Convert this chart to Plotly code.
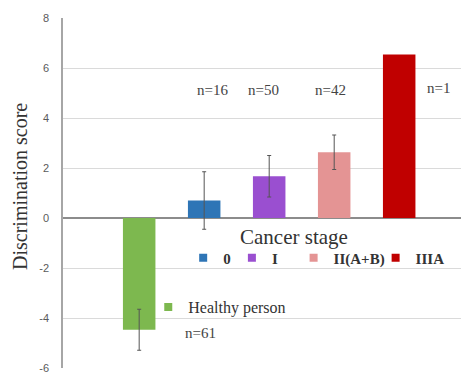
import plotly.graph_objects as go

# ---- data ----
categories = ["Healthy person", "0", "I", "II(A+B)", "IIIA"]
scores = [-4.47, 0.70, 1.67, 2.63, 6.54]
errors = [0.82, 1.15, 0.83, 0.69, 0.0]
counts = ["n=61", "n=16", "n=50", "n=42", "n=1"]
colors = ["#7db84f", "#2e75b6", "#9a4fd0", "#e49494", "#c00000"]
legend_names = ["Healthy person", "0", "I", "II(A+B)", "IIIA"]
y_ticks = [-6, -4, -2, 0, 2, 4, 6, 8]
y_title = "Discrimination score"
legend_title = "Cancer stage"

fig = go.Figure()

# bars
for i, cat in enumerate(categories):
    fig.add_trace(go.Bar(
        x=[i], y=[scores[i]], width=0.5,
        marker=dict(color=colors[i], line=dict(width=0)),
        error_y=dict(type="data", array=[errors[i]], visible=errors[i] > 0,
                     color="#555555", thickness=1, width=2),
        showlegend=False, hoverinfo="skip",
    ))

# legend entries (one legend box per entry so they can sit like the original)
legend_ids = ["legend5", "legend", "legend2", "legend3", "legend4"]
legend_pos = {
    "legend":  (0.296, 0.314),
    "legend2": (0.416, 0.314),
    "legend3": (0.568, 0.314),
    "legend4": (0.770, 0.314),
    "legend5": (0.210, 0.174),
}
for i, name in enumerate(legend_names):
    bold = i > 0
    fig.add_trace(go.Scatter(
        x=[None], y=[None], mode="markers",
        marker=dict(symbol="square", size=8, color=colors[i]),
        name=("<b>%s</b>" % name) if bold else name,
        legend=legend_ids[i], showlegend=True,
    ))

legend_common = dict(bgcolor="rgba(0,0,0,0)", borderwidth=0,
                     xanchor="left", yanchor="middle", itemwidth=30,
                     tracegroupgap=0)
layout_legends = {}
for lid, (lx, ly) in legend_pos.items():
    fnt = dict(family="Liberation Serif", size=15 if lid != "legend5" else 16,
               color="#333333")
    layout_legends[lid] = dict(x=lx, y=ly, font=fnt, **legend_common)

# n= annotations (data coordinates beside/above bars)
ann_x = [0.95, 1.13, 1.92, 2.95, 4.6]
ann_y = [-4.6, 5.12, 5.12, 5.12, 5.2]
annotations = []
for i in range(len(categories)):
    annotations.append(dict(
        x=ann_x[i], y=ann_y[i], xref="x", yref="y", text=counts[i],
        showarrow=False, xanchor="center", yanchor="middle",
        font=dict(family="Liberation Serif", size=15, color="#444444")))
annotations.append(dict(
    x=0.57, y=0.374, xref="paper", yref="paper", text=legend_title,
    showarrow=False, xanchor="center", yanchor="middle",
    font=dict(family="Liberation Serif", size=21, color="#333333")))
annotations.append(dict(
    x=-0.106, y=0.52, xref="paper", yref="paper", text=y_title,
    textangle=-90, showarrow=False, xanchor="center", yanchor="middle",
    font=dict(family="Liberation Serif", size=20, color="#333333")))

# page body adds an 8px margin, so the figure is sized to fit the window
fig.update_layout(
    width=461, height=383,
    margin=dict(l=55, r=0, t=10, b=23),
    paper_bgcolor="white", plot_bgcolor="white",
    bargap=0.5,
    annotations=annotations,
    **layout_legends,
)

fig.update_xaxes(
    range=[-1.172, 5.074], showticklabels=False, showgrid=False,
    zeroline=False, showline=False, ticks="",
)
fig.update_yaxes(
    range=[-6, 8], tickvals=y_ticks, ticktext=[str(v) for v in y_ticks],
    showgrid=True, gridcolor="#dadada", gridwidth=1,
    zeroline=True, zerolinecolor="#8c8c8c", zerolinewidth=1.5,
    showline=True, linecolor="#a6a6a6", linewidth=1.5,
    ticks="", ticklabelstandoff=10,
    tickfont=dict(family="Liberation Sans", size=11, color="#5a5a5a"),
)

fig.write_html("out.html")
